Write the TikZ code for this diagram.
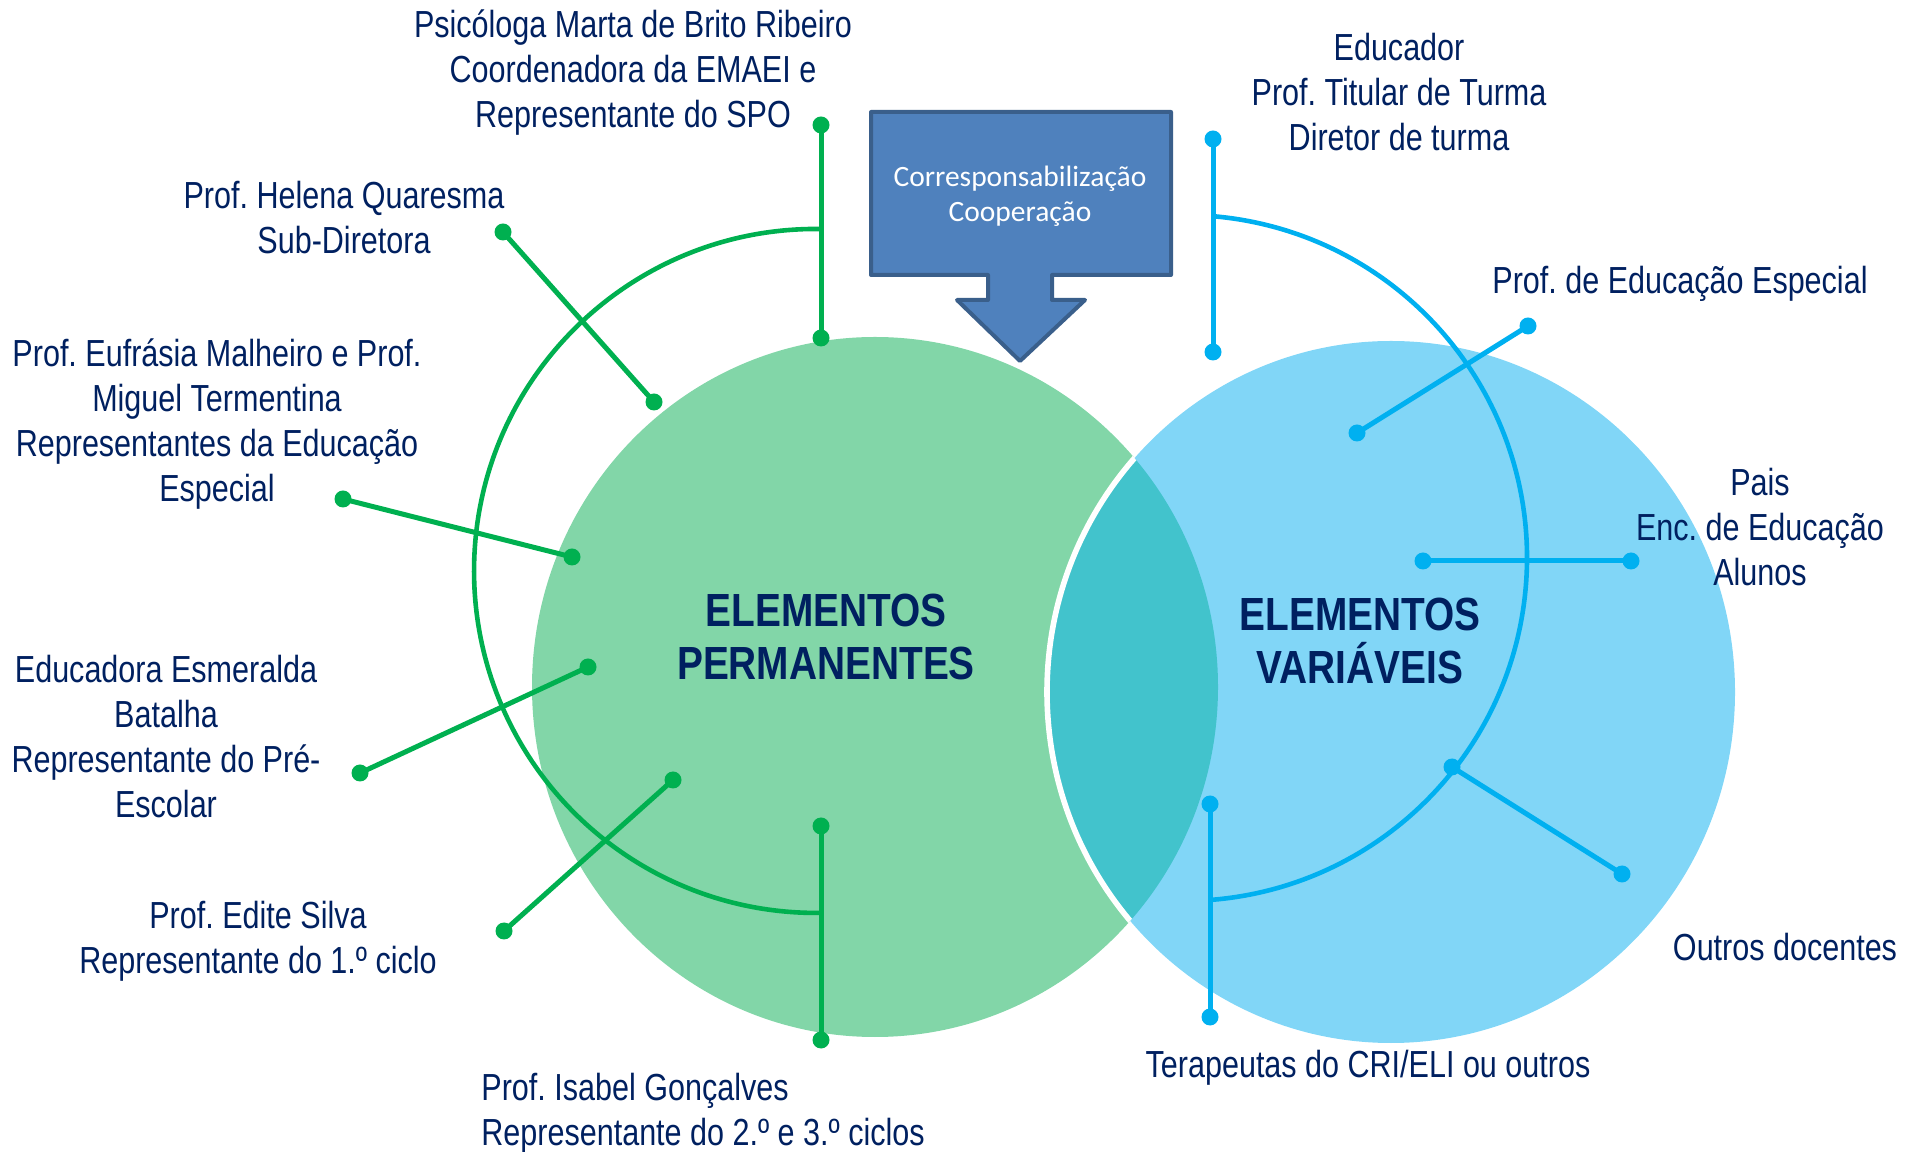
\documentclass[tikz,border=0pt]{standalone}
\usepackage{fontspec}
\setmainfont{Liberation Sans}[FakeStretch=0.81]
\newfontfamily\titlefont{Liberation Sans}[FakeStretch=0.835]
\newfontfamily\boxfont{Carlito}
\definecolor{navy}{RGB}{0,32,96}
\definecolor{gfill}{RGB}{130,214,168}
\definecolor{bfill}{RGB}{129,214,247}
\definecolor{lensc}{RGB}{66,195,204}
\definecolor{gline}{RGB}{0,176,80}
\definecolor{bline}{RGB}{0,176,240}
\definecolor{boxfill}{RGB}{79,129,189}
\definecolor{boxdraw}{RGB}{58,95,139}
\frenchspacing
\begin{document}
\begin{tikzpicture}[x=0.5pt,y=0.5pt,
  lbl/.style={font=\fontsize{18.85pt}{22.5pt}\selectfont, text=navy, align=center, anchor=base, inner sep=0pt},
  ttl/.style={font=\titlefont\bfseries\fontsize{23.25pt}{26.5pt}\selectfont, text=navy, anchor=base, inner sep=0pt},
  boxtxt/.style={font=\boxfont\fontsize{14.75pt}{18pt}\selectfont, text=white, anchor=base, inner sep=0pt},
  gdot/.style={circle, fill=gline, inner sep=0pt, minimum size=8.5pt},
  bdot/.style={circle, fill=bline, inner sep=0pt, minimum size=8.5pt},
  gconn/.style={draw=gline, line width=2.5pt},
  bconn/.style={draw=bline, line width=2.5pt},
  garc/.style={draw=gline, line width=2.3pt},
  barc/.style={draw=bline, line width=2.3pt}]
\useasboundingbox (0,0) rectangle (1905,1151);
% circles
\fill[gfill] (875,464) ellipse [x radius=171.5pt, y radius=175pt];
\fill[bfill] (1391,459) ellipse [x radius=172pt, y radius=175.5pt];
\begin{scope}
  \clip (875,464) ellipse [x radius=171.5pt, y radius=175pt];
  \fill[lensc] (1391,459) ellipse [x radius=172pt, y radius=175.5pt];
  \draw[white, line width=2.8pt] (1391,459) ellipse [x radius=172pt, y radius=175.5pt];
\end{scope}
% arcs
\coordinate (gat) at (820.8,922);
\coordinate (bat) at (1212.7,934.8);
\draw[garc] (gat) arc[start angle=89.2, end angle=270.8, radius=171pt];
\draw[barc] (bat) arc[start angle=85.2, end angle=-85.7, radius=171.5pt];
% green connectors
\node[gdot] (g1a) at (821,1026) {};
\node[gdot] (g1b) at (821,813) {};
\node[gdot] (g2a) at (503,919) {};
\node[gdot] (g2b) at (654,749) {};
\node[gdot] (g3a) at (343,652) {};
\node[gdot] (g3b) at (572,594) {};
\node[gdot] (g4a) at (360,378) {};
\node[gdot] (g4b) at (588,484) {};
\node[gdot] (g5a) at (504,220) {};
\node[gdot] (g5b) at (673,371) {};
\node[gdot] (g6a) at (821,325) {};
\node[gdot] (g6b) at (821,111) {};
\draw[gconn] (g1a.center) -- (g1b.center);
\draw[gconn] (g2a.center) -- (g2b.center);
\draw[gconn] (g3a.center) -- (g3b.center);
\draw[gconn] (g4a.center) -- (g4b.center);
\draw[gconn] (g5a.center) -- (g5b.center);
\draw[gconn] (g6a.center) -- (g6b.center);
% blue connectors
\node[bdot] (b1a) at (1213,1012) {};
\node[bdot] (b1b) at (1213,799) {};
\node[bdot] (b2a) at (1528,825) {};
\node[bdot] (b2b) at (1357,718) {};
\node[bdot] (b3a) at (1423,590) {};
\node[bdot] (b3b) at (1631,590) {};
\node[bdot] (b4a) at (1452,384) {};
\node[bdot] (b4b) at (1622,277) {};
\node[bdot] (b5a) at (1210,347) {};
\node[bdot] (b5b) at (1210,134) {};
\draw[bconn] (b1a.center) -- (b1b.center);
\draw[bconn] (b2a.center) -- (b2b.center);
\draw[bconn] (b3a.center) -- (b3b.center);
\draw[bconn] (b4a.center) -- (b4b.center);
\draw[bconn] (b5a.center) -- (b5b.center);
% arrow box
\draw[fill=boxfill, draw=boxdraw, line width=2pt, line join=round]
  (871,1039) -- (1171,1039) -- (1171,876) -- (1052,876) -- (1052,851) -- (1085,851)
  -- (1020,790) -- (957,851) -- (988,851) -- (988,876) -- (871,876) -- cycle;
\node[boxtxt] (bx1) at (1020,964) {Corresponsabilização};
\node[boxtxt] (bx2) at (1020,929) {Cooperação};
% titles
\node[ttl] (tp1) at (826,524) {ELEMENTOS};
\node[ttl] (tp2) at (826,471) {PERMANENTES};
\node[ttl] (tv1) at (1360,520) {ELEMENTOS};
\node[ttl] (tv2) at (1360,467) {VARIÁVEIS};
% labels (anchor base = last line's baseline)
\node[lbl] (la) at (633,1023) {Psicóloga Marta de Brito Ribeiro\\Coordenadora da EMAEI e\\Representante do SPO};
\node[lbl] (lb) at (344,897) {Prof. Helena Quaresma\\Sub-Diretora};
\node[lbl] (lc) at (217,649) {Prof. Eufrásia Malheiro e Prof.\\Miguel Termentina\\Representantes da Educação\\Especial};
\node[lbl] (ld) at (166,333) {Educadora Esmeralda\\Batalha\\Representante do Pré-\\Escolar};
\node[lbl] (le) at (258,177) {Prof. Edite Silva\\Representante do 1.º ciclo};
\node[lbl, align=left, anchor=base west] (lf) at (481,6) {Prof. Isabel Gonçalves\\Representante do 2.º e 3.º ciclos};
\node[lbl] (lg) at (1399,1000) {Educador\\Prof. Titular de Turma\\Diretor de turma};
\node[lbl] (lh) at (1680,857) {Prof. de Educação Especial};
\node[lbl] (li) at (1760,565) {Pais\\Enc. de Educação\\Alunos};
\node[lbl] (lj) at (1785,191) {Outros docentes};
\node[lbl] (lk) at (1368,74) {Terapeutas do CRI/ELI ou outros};
\end{tikzpicture}
\end{document}
